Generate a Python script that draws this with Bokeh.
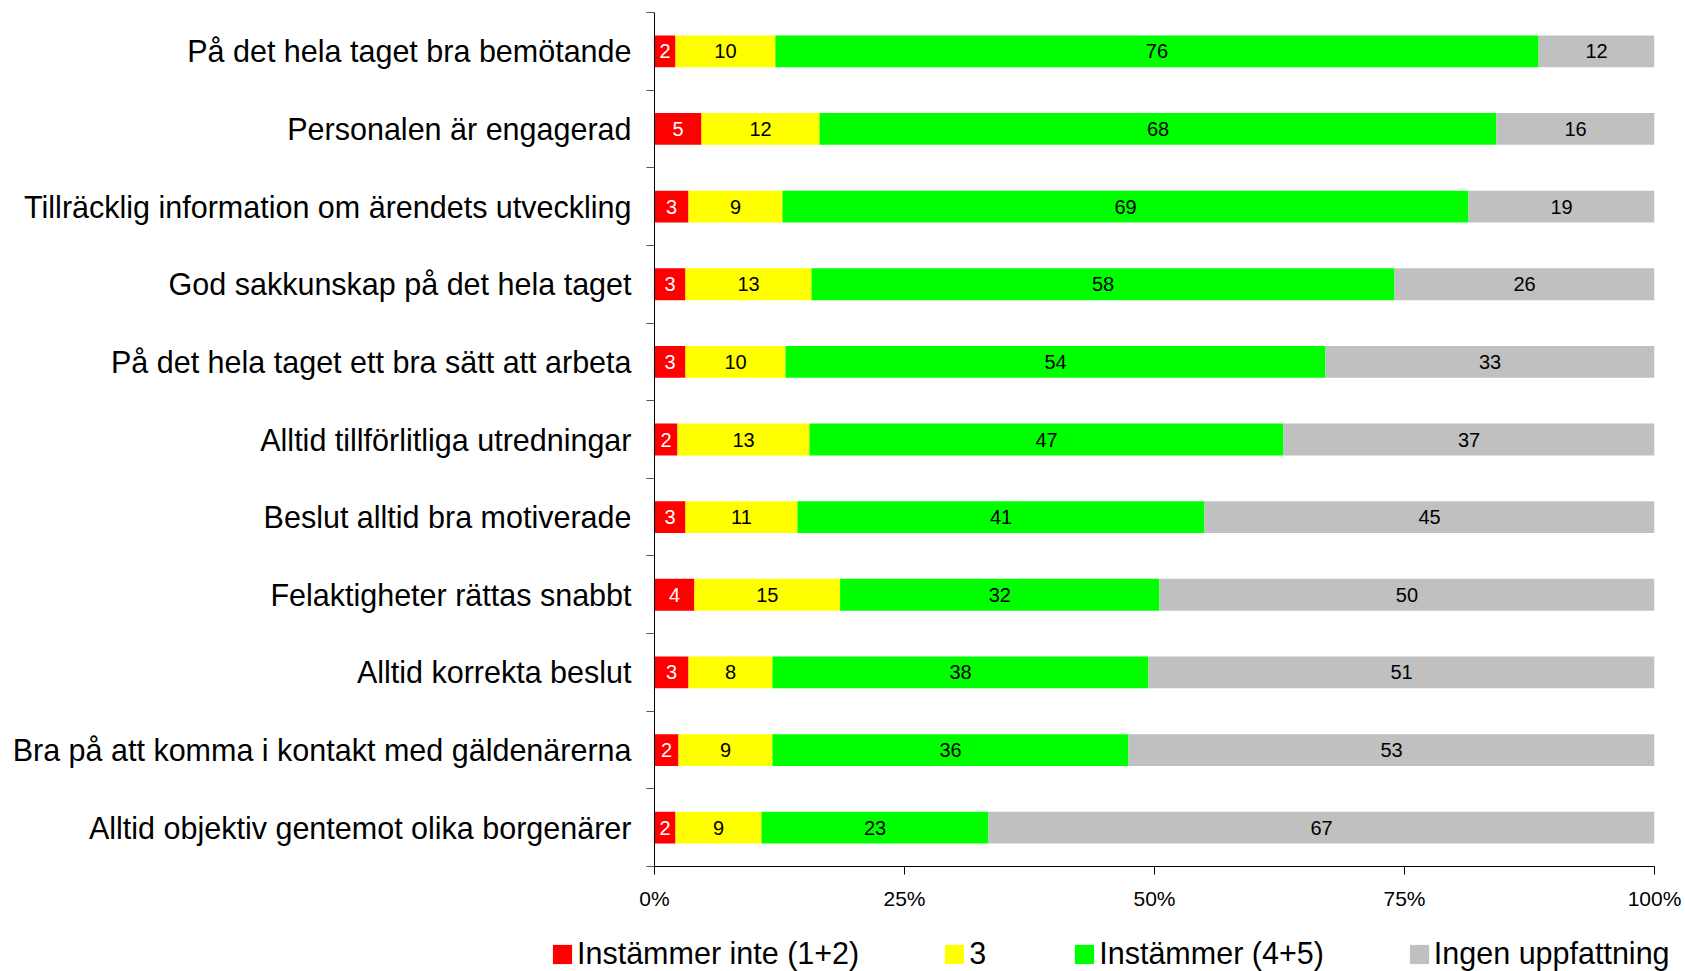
from bokeh.plotting import figure
from bokeh.layouts import column
from bokeh.models import (ColumnDataSource, FixedTicker, NumeralTickFormatter,
                          Legend, LegendItem, Range1d)
from bokeh.core.properties import value
from bokeh.embed import file_html
from bokeh.resources import INLINE

# ---------------- data ----------------
categories = [
    "På det hela taget bra bemötande",
    "Personalen är engagerad",
    "Tillräcklig information om ärendets utveckling",
    "God sakkunskap på det hela taget",
    "På det hela taget ett bra sätt att arbeta",
    "Alltid tillförlitliga utredningar",
    "Beslut alltid bra motiverade",
    "Felaktigheter rättas snabbt",
    "Alltid korrekta beslut",
    "Bra på att komma i kontakt med gäldenärerna",
    "Alltid objektiv gentemot olika borgenärer",
]
instammer_inte = [2.1, 4.7, 3.4, 3.1, 3.1, 2.3, 3.1, 4.0, 3.4, 2.4, 2.1]
tre = [10.0, 11.8, 9.4, 12.6, 10.0, 13.2, 11.2, 14.6, 8.4, 9.4, 8.6]
instammer = [76.4, 67.7, 68.6, 58.3, 54.0, 47.4, 40.7, 32.0, 37.6, 35.6, 22.7]
ingen = [11.6, 15.8, 18.6, 26.0, 32.9, 37.1, 45.0, 49.6, 50.6, 52.6, 66.6]

series_names = ["Instämmer inte (1+2)", "3", "Instämmer (4+5)", "Ingen uppfattning"]
series_values = [instammer_inte, tre, instammer, ingen]
colors = ["#FF0000", "#FFFF00", "#00FF00", "#C0C0C0"]
label_colors = ["white", "black", "black", "black"]
x_ticks = [0, 0.25, 0.5, 0.75, 1.0]

FONT = "Liberation Sans"
n = len(categories)

# ---------------- main chart ----------------
ypos = [n - 1 - i for i in range(n)]
totals = [sum(s[i] for s in series_values) for i in range(n)]
keys = ["s0", "s1", "s2", "s3"]
data = {"y": ypos}
for k, s in zip(keys, series_values):
    data[k] = [v / t for v, t in zip(s, totals)]
src = ColumnDataSource(data)

p = figure(frame_width=1000, frame_height=854,
           x_range=Range1d(0, 1), y_range=Range1d(-0.5, n - 0.5),
           output_backend="svg", toolbar_location=None,
           min_border_left=654, min_border_right=31,
           min_border_top=12, min_border_bottom=50)
p.outline_line_color = None
p.xgrid.grid_line_color = None
p.ygrid.grid_line_color = None
p.background_fill_color = "white"
p.border_fill_color = "white"

rends = p.hbar_stack(keys, y="y", height=0.41, color=colors, source=src,
                     line_color=None)

# value labels
for j, (k, s) in enumerate(zip(keys, series_values)):
    xs, ys, txt = [], [], []
    for i in range(n):
        start = sum(data[kk][i] for kk in keys[:j])
        xs.append(start + data[k][i] / 2)
        ys.append(ypos[i])
        txt.append(f"{s[i]:.0f}")
    p.text(x=xs, y=ys, text=txt, text_align="center", text_baseline="middle",
           text_font=value(FONT), text_font_size="20px",
           text_color=label_colors[j])

# x axis
p.xaxis.ticker = FixedTicker(ticks=x_ticks, minor_ticks=[])
p.xaxis.formatter = NumeralTickFormatter(format="0%")
p.xaxis.major_tick_out = 8
p.xaxis.major_tick_in = 0
p.xaxis.minor_tick_out = 0
p.xaxis.minor_tick_in = 0
p.xaxis.axis_line_color = "black"
p.xaxis.major_tick_line_color = "black"
p.xaxis.major_label_text_font = FONT
p.xaxis.major_label_text_font_size = "21px"
p.xaxis.major_label_text_color = "black"
p.xaxis.major_label_standoff = 12

# y axis
p.yaxis.ticker = FixedTicker(ticks=ypos, minor_ticks=[i - 0.5 for i in range(n + 1)])
p.yaxis.major_label_overrides = {y: c for y, c in zip(ypos, categories)}
p.yaxis.major_tick_out = 0
p.yaxis.major_tick_in = 0
p.yaxis.minor_tick_out = 8
p.yaxis.minor_tick_in = 0
p.yaxis.minor_tick_line_color = "#555555"
p.yaxis.axis_line_color = "black"
p.yaxis.major_label_text_font = FONT
p.yaxis.major_label_text_font_size = "30.5px"
p.yaxis.major_label_text_color = "black"
p.yaxis.major_label_standoff = 15

# ---------------- legend strip ----------------
lg = figure(frame_width=1685, frame_height=55, min_border=0,
            x_range=Range1d(0, 1), y_range=Range1d(0, 1),
            x_axis_location=None, y_axis_location=None,
            output_backend="svg", toolbar_location=None)
lg.outline_line_color = None
lg.background_fill_color = "white"
lg.border_fill_color = "white"
lg.grid.visible = False
# legend swatches only (placed outside the visible range)
dummy = [lg.hbar(y=[-5], right=[1], height=0.5, color=c, line_color=None) for c in colors]
legend = Legend(items=[LegendItem(label=nm, renderers=[r]) for nm, r in zip(series_names, dummy)],
                orientation="horizontal", location=(550, 0),
                glyph_width=24, glyph_height=24, label_standoff=3, spacing=83,
                padding=0, margin=0, border_line_color=None,
                background_fill_alpha=0,
                label_text_font=FONT, label_text_font_size="30.5px",
                label_text_color="black")
lg.add_layout(legend, "center")

layout = column(p, lg, spacing=0)
open("out.html", "w").write(file_html(layout, INLINE))
